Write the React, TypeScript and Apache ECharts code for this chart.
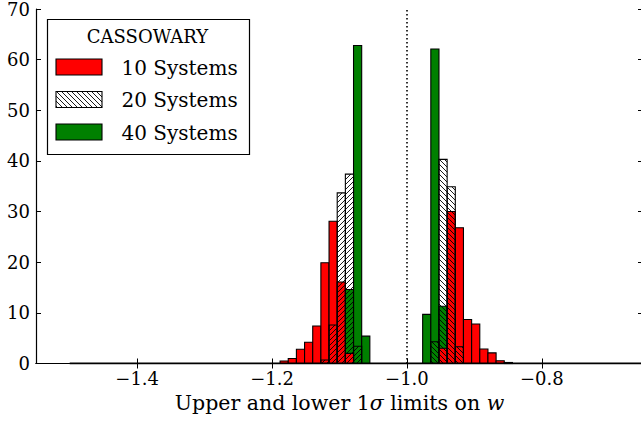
import React, { useEffect, useRef } from "react";
import * as echarts from "echarts";

const FONT = "'DejaVu Serif', serif";

// bin geometry (density histograms, width ~0.0121)
const binWidth = 0.0121;
const lowerBinStarts = [-1.1881, -1.176, -1.1639, -1.1518, -1.1397, -1.1276, -1.1155, -1.1034, -1.0913, -1.0792, -1.0671];
const upperBinStarts = [-0.9767, -0.9646, -0.9525, -0.9404, -0.9283, -0.9162, -0.9041, -0.892, -0.8799, -0.8678, -0.8557];

// lower 1-sigma limits
const lower10 = [0.5, 1.0, 2.8, 4.2, 7.4, 19.9, 28.1, 16.1, 2.0, 0, 0];
const lower20 = [0, 0, 0, 0, 0, 0.7, 7.6, 33.7, 37.4, 3.4, 0];
const lower40 = [0, 0, 0, 0, 0, 0, 0, 0, 14.6, 62.8, 5.4];
// upper 1-sigma limits
const upper10 = [0, 0, 3.0, 30.0, 26.8, 8.7, 7.8, 2.85, 2.1, 0.55, 0.2];
const upper20 = [0, 4.3, 40.3, 34.9, 3.3, 0, 0, 0, 0, 0, 0];
const upper40 = [9.7, 62.1, 11.3, 0, 0, 0, 0, 0, 0, 0, 0];

const histRange = [-1.5, -0.6];
const fiducialW = -1.0;

const xTicks = [-1.4, -1.2, -1.0, -0.8];
const legendTitle = "CASSOWARY";
const legendLabels = ["10 Systems", "20 Systems", "40 Systems"];

function toBars(starts: number[], vals: number[]) {
  const out: number[][] = [];
  starts.forEach((s, i) => {
    if (vals[i] > 0) out.push([s, s + binWidth, vals[i]]);
  });
  return out;
}

function hatchLines(x0: number, y0: number, w: number, h: number, dir: number, s: number) {
  const x1 = x0 + w;
  const y1 = y0 + h;
  const lines: any[] = [];
  const style = { stroke: "#000", lineWidth: 0.9 };
  if (dir === 1) {
    for (let c = Math.ceil((x0 + y0) / s) * s; c <= x1 + y1; c += s) {
      const xa = Math.max(x0, c - y1);
      const xb = Math.min(x1, c - y0);
      if (xb > xa) lines.push({ type: "line", shape: { x1: xa, y1: c - xa, x2: xb, y2: c - xb }, style });
    }
  } else {
    for (let d = Math.ceil((y0 - x1) / s) * s; d <= y1 - x0; d += s) {
      const xa = Math.max(x0, y0 - d);
      const xb = Math.min(x1, y1 - d);
      if (xb > xa) lines.push({ type: "line", shape: { x1: xa, y1: xa + d, x2: xb, y2: xb + d }, style });
    }
  }
  return lines;
}

const HATCH = 5;

function solidSeries(name: string, data: number[][], color: string) {
  return {
    type: "custom",
    name,
    data,
    encode: { x: [0, 1], y: 2 },
    renderItem: (params: any, api: any) => {
      const p0 = api.coord([api.value(0), api.value(2)]);
      const p1 = api.coord([api.value(1), 0]);
      return {
        type: "rect",
        shape: { x: p0[0], y: p0[1], width: p1[0] - p0[0], height: p1[1] - p0[1] },
        style: { fill: color, stroke: "#000", lineWidth: 1.1 },
      };
    },
  };
}

function hatchSeries(name: string, data: number[][], dir: number) {
  return {
    type: "custom",
    name,
    data,
    encode: { x: [0, 1], y: 2 },
    renderItem: (params: any, api: any) => {
      const p0 = api.coord([api.value(0), api.value(2)]);
      const p1 = api.coord([api.value(1), 0]);
      const x = p0[0];
      const y = p0[1];
      const w = p1[0] - p0[0];
      const h = p1[1] - p0[1];
      return {
        type: "group",
        children: [
          ...hatchLines(x, y, w, h, dir, HATCH),
          { type: "rect", shape: { x, y, width: w, height: h }, style: { fill: "none", stroke: "#000", lineWidth: 1.1 } },
        ],
      };
    },
  };
}

export default function App() {
  const ref = useRef<HTMLDivElement>(null);
  useEffect(() => {
    if (!ref.current) return;
    const chart = echarts.init(ref.current, undefined, { renderer: "svg" });
    const fmt = (v: number) => v.toFixed(1).replace("-", "\u2212");
    const tickCommon = { show: true, inside: true, length: 5, lineStyle: { color: "#000", width: 1 } };

    // legend
    const lx = 47.5;
    const ly = 19.5;
    const swX = 56;
    const swW = 46;
    const swH = 16;
    const rowY = [59, 91.5, 124];
    const legendEls: any[] = [
      { type: "rect", shape: { x: lx, y: ly, width: 202, height: 135 }, style: { fill: "#fff", stroke: "#000", lineWidth: 1.2 }, z: 10 },
      {
        type: "text",
        x: 147.5,
        y: 36.5,
        z: 11,
        style: { text: legendTitle, fill: "#000", font: `18px ${FONT}`, align: "center", verticalAlign: "middle" },
      },
    ];
    const swFills = ["#ff0000", "none", "#008000"];
    legendLabels.forEach((lab, i) => {
      const y = rowY[i];
      if (i === 1) {
        hatchLines(swX, y, swW, swH, -1, HATCH).forEach((l) => legendEls.push({ ...l, z: 11 }));
      }
      legendEls.push({
        type: "rect",
        shape: { x: swX, y, width: swW, height: swH },
        style: { fill: swFills[i], stroke: "#000", lineWidth: 1.1 },
        z: 11,
      });
      legendEls.push({
        type: "text",
        x: 121.5,
        y: y + 8.5,
        z: 11,
        style: { text: lab, fill: "#000", font: `20px ${FONT}`, align: "left", verticalAlign: "middle" },
      });
    });

    chart.setOption({
      animation: false,
      backgroundColor: "#fff",
      grid: { left: 36, right: 0, top: 7.5, bottom: 57.5, containLabel: false },
      xAxis: [
        {
          type: "value",
          min: -1.55,
          max: -0.65,
          position: "bottom",
          axisLine: { show: true, lineStyle: { color: "#000", width: 1.2 } },
          axisTick: { ...tickCommon, customValues: xTicks },
          axisLabel: {
            customValues: xTicks,
            formatter: fmt,
            color: "#000",
            fontFamily: FONT,
            fontSize: 18,
            margin: 6,
          },
          splitLine: { show: false },
          name: "{t|Upper and lower 1}{i|\u03c3}{t| limits on }{i|w}",
          nameLocation: "middle",
          nameGap: 17,
          nameTextStyle: {
            rich: {
              t: { fontFamily: FONT, fontSize: 20.5, color: "#000" },
              i: { fontFamily: FONT, fontSize: 20.5, fontStyle: "italic", color: "#000" },
            },
          },
        },
        {
          type: "value",
          min: -1.55,
          max: -0.65,
          position: "top",
          axisLine: { show: true, lineStyle: { color: "#000", width: 1.2 } },
          axisTick: { ...tickCommon, customValues: xTicks },
          axisLabel: { show: false },
          splitLine: { show: false },
        },
      ],
      yAxis: [
        {
          type: "value",
          min: 0,
          max: 70,
          interval: 10,
          position: "left",
          axisLine: { show: true, lineStyle: { color: "#000", width: 1.2 } },
          axisTick: tickCommon,
          axisLabel: { color: "#000", fontFamily: FONT, fontSize: 18, margin: 6 },
          splitLine: { show: false },
        },
        {
          type: "value",
          min: 0,
          max: 70,
          interval: 10,
          position: "right",
          axisLine: { show: true, lineStyle: { color: "#000", width: 1 } },
          axisTick: tickCommon,
          axisLabel: { show: false },
          splitLine: { show: false },
        },
      ],
      series: [
        {
          type: "line",
          data: histRange.map((v) => [v, 0]),
          showSymbol: false,
          lineStyle: { color: "#000", width: 2.2 },
          silent: true,
          markLine: {
            silent: true,
            symbol: "none",
            label: { show: false },
            lineStyle: { type: [1.5, 2.5], color: "#000", width: 1.6 },
            data: [{ xAxis: fiducialW }],
          },
        },
        solidSeries("40 Systems lower", toBars(lowerBinStarts, lower40), "#008000"),
        solidSeries("40 Systems upper", toBars(upperBinStarts, upper40), "#008000"),
        solidSeries("10 Systems lower", toBars(lowerBinStarts, lower10), "#ff0000"),
        solidSeries("10 Systems upper", toBars(upperBinStarts, upper10), "#ff0000"),
        hatchSeries("20 Systems lower", toBars(lowerBinStarts, lower20), 1),
        hatchSeries("20 Systems upper", toBars(upperBinStarts, upper20), -1),
      ],
      graphic: legendEls,
    });
    return () => chart.dispose();
  }, []);
  return (
    <div style={{ position: "fixed", left: 0, top: 0, width: 641, height: 421, overflow: "hidden", background: "#fff" }}>
      <div ref={ref} style={{ width: 643, height: 421 }} />
    </div>
  );
}
